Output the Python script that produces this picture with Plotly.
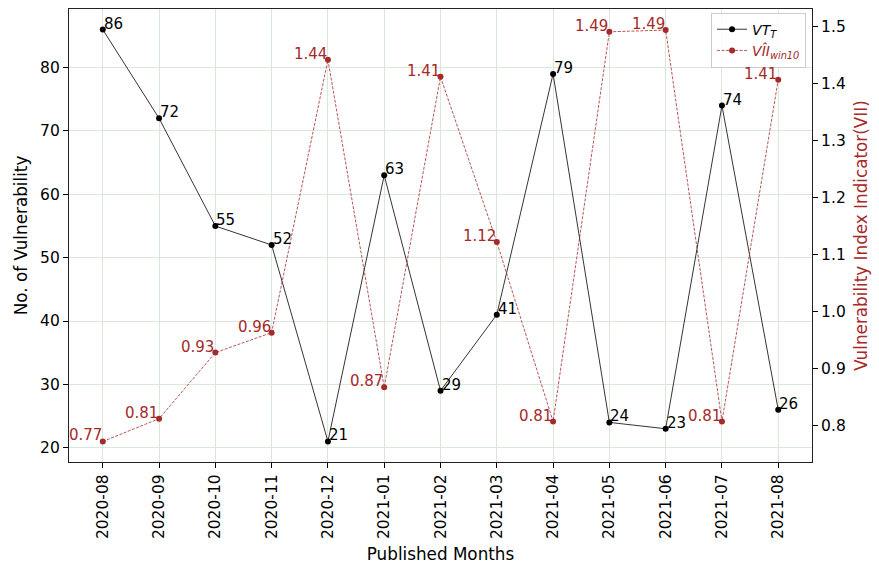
import plotly.graph_objects as go

months = ["2020-08", "2020-09", "2020-10", "2020-11", "2020-12", "2021-01", "2021-02",
          "2021-03", "2021-04", "2021-05", "2021-06", "2021-07", "2021-08"]
vt_counts = [86, 72, 55, 52, 21, 63, 29, 41, 79, 24, 23, 74, 26]
vii_values = [0.772, 0.812, 0.928, 0.963, 1.442, 0.867, 1.412, 1.122, 0.807, 1.491, 1.494, 0.807, 1.407]

BLACK = "#000000"
BROWN = "#A52A2A"
GRID = "#d9e8d9"
FONT = "DejaVu Sans"
TICK = 15.5
LABEL = 16.8

fig = go.Figure()
fig.add_trace(go.Scatter(
    x=months, y=vt_counts, mode="lines+markers", name="<i>VT<sub>T</sub></i>",
    line=dict(color=BLACK, width=0.8), marker=dict(color=BLACK, size=6),
    yaxis="y"))
fig.add_trace(go.Scatter(
    x=months, y=vii_values, mode="lines+markers",
    name='<span style="color:#A52A2A"><i>VÎI<sub>win10</sub></i></span>',
    line=dict(color=BROWN, width=0.8, dash="3px,1.5px"), marker=dict(color=BROWN, size=6),
    yaxis="y2"))

annotations = []
for m, v in zip(months, vt_counts):
    annotations.append(dict(x=m, y=v, xref="x", yref="y", text=str(v), showarrow=False,
                            xanchor="left", yanchor="bottom", xshift=-1, yshift=-5,
                            font=dict(family=FONT, size=15, color=BLACK)))
for m, v in zip(months, vii_values):
    annotations.append(dict(x=m, y=v, xref="x", yref="y2", text=f"{v:.2f}", showarrow=False,
                            xanchor="right", yanchor="bottom", xshift=1, yshift=-5,
                            font=dict(family=FONT, size=15, color=BROWN)))

fig.update_layout(
    width=879, height=568,
    margin=dict(l=69, r=67, t=9, b=106),
    paper_bgcolor="white", plot_bgcolor="white",
    font=dict(family=FONT, size=TICK, color=BLACK),
    showlegend=True,
    legend=dict(x=0.992, y=0.992, xanchor="right", yanchor="top",
                bgcolor="rgba(255,255,255,0.8)", bordercolor="#cccccc", borderwidth=1,
                font=dict(family=FONT, size=14), tracegroupgap=4),
    xaxis=dict(
        title=dict(text="Published Months", font=dict(size=LABEL), standoff=10),
        type="category", range=[-0.6, 12.6], tickangle=-90, automargin=False,
        showgrid=True, gridcolor=GRID, gridwidth=1,
        ticks="outside", ticklen=5, tickcolor=BLACK,
        showline=True, linecolor="#222222", linewidth=1.3, mirror=True,
        zeroline=False, tickfont=dict(size=TICK)),
    yaxis=dict(
        title=dict(text="No. of Vulnerability", font=dict(size=LABEL), standoff=8),
        range=[17.75, 89.25], tickvals=[20, 30, 40, 50, 60, 70, 80], automargin=False,
        showgrid=True, gridcolor=GRID, gridwidth=1,
        ticks="outside", ticklen=5, tickcolor=BLACK,
        showline=True, linecolor="#222222", linewidth=1.3, mirror=True,
        zeroline=False, tickfont=dict(size=TICK)),
    yaxis2=dict(
        title=dict(text="Vulnerability Index Indicator(VII)", font=dict(size=LABEL, color=BROWN), standoff=10),
        overlaying="y", side="right", automargin=False,
        range=[0.736, 1.531], tickvals=[0.8, 0.9, 1.0, 1.1, 1.2, 1.3, 1.4, 1.5],
        ticktext=["0.8", "0.9", "1.0", "1.1", "1.2", "1.3", "1.4", "1.5"],
        showgrid=False, ticks="outside", ticklen=5, tickcolor=BLACK,
        showline=False, zeroline=False, tickfont=dict(size=TICK)),
    annotations=annotations,
)

fig.write_html("out.html", config={"displayModeBar": False},
               post_script="document.body.style.margin='0';document.body.style.overflow='hidden';")
